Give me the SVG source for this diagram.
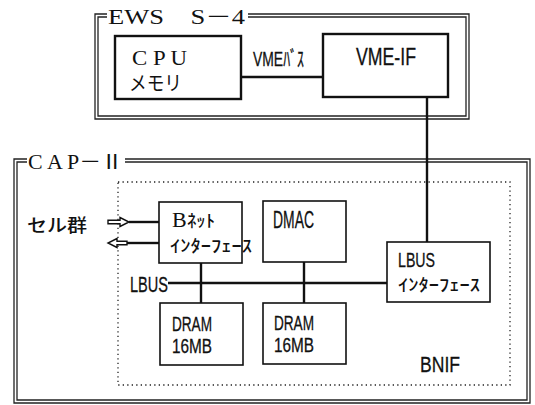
<svg xmlns="http://www.w3.org/2000/svg" width="535" height="405" viewBox="0 0 535 405">
<style>
.frame{fill:none;stroke:#222;stroke-width:1.3}
.box{fill:#fff;stroke:#111;stroke-width:1.6}
.boxb{fill:#fff;stroke:#111;stroke-width:2.4}
.dot{fill:none;stroke:#222;stroke-width:1.3;stroke-dasharray:1.3 3.2}
.ln{fill:none;stroke:#111;stroke-width:2.4}
.harrow{fill:#fff;stroke:#111;stroke-width:1.4}
.ser{font-family:"Liberation Serif","Noto Sans CJK JP",serif;fill:#111}
.nar{font-family:"Liberation Sans","Noto Sans CJK JP",sans-serif;fill:#111;stroke:#111;stroke-width:0.3}
.jp{font-family:"Noto Sans CJK JP",sans-serif;fill:#111}
</style>
<rect width="535" height="405" fill="#fff"/>
<g id="ews">
<path class="frame" d="M107,14 H95 V119 H469 V14 H248"/>
<path class="frame" d="M107,17 H98 V116 H466 V17 H248"/>
<text class="ser" x="108" y="24" font-size="20" textLength="137" lengthAdjust="spacingAndGlyphs">EWS　S－4</text>
</g>
<g id="cap">
<path class="frame" d="M27,159 H14 V403 H530 V159 H125"/>
<path class="frame" d="M27,162 H17 V400 H527 V162 H125"/>
<text class="ser" x="28" y="169" font-size="20" textLength="95" lengthAdjust="spacingAndGlyphs">C A P－Ⅱ</text>
</g>
<g id="bnif">
<rect class="dot" x="118" y="182" width="392" height="203"/>
<text class="nar" x="420" y="372" font-size="22" textLength="40" lengthAdjust="spacingAndGlyphs">BNIF</text>
</g>
<g id="connectors">
<line class="ln" x1="241" y1="77" x2="323" y2="77"/>
<line class="ln" x1="427" y1="97" x2="427" y2="242"/>
<line class="ln" x1="168" y1="283" x2="387" y2="283"/>
<line class="ln" x1="201" y1="263" x2="201" y2="303"/>
<line class="ln" x1="304" y1="262" x2="304" y2="303"/>
<line class="ln" x1="129" y1="222" x2="159" y2="222"/>
<line class="ln" x1="127" y1="243" x2="159" y2="243"/>
<polygon class="harrow" points="108,220.3 120,220.3 120,217.5 129,222 120,226.5 120,223.7 108,223.7"/>
<polygon class="harrow" points="127,241.3 117,241.3 117,238.5 108,243 117,247.5 117,244.7 127,244.7"/>
<text class="nar" x="253" y="66" font-size="21" textLength="51" lengthAdjust="spacingAndGlyphs">VMEﾊﾞｽ</text>
<text class="nar" x="130" y="292" font-size="22" textLength="38" lengthAdjust="spacingAndGlyphs">LBUS</text>
</g>
<g id="cpu">
<rect class="boxb" x="115" y="36" width="126" height="63"/>
<text class="ser" x="132" y="65" font-size="21" textLength="55" lengthAdjust="spacingAndGlyphs">C P U</text>
<text class="jp" x="129" y="91" font-size="20" textLength="53" lengthAdjust="spacingAndGlyphs">メモリ</text>
</g>
<g id="vmeif">
<rect class="boxb" x="323" y="34" width="125" height="63"/>
<text class="nar" x="356" y="65" font-size="23" textLength="60" lengthAdjust="spacingAndGlyphs">VME-IF</text>
</g>
<g id="cells">
<text class="jp" x="27" y="232" font-size="18" font-weight="500" textLength="60" lengthAdjust="spacingAndGlyphs">セル群</text>
</g>
<g id="bnet">
<rect class="box" x="159" y="202" width="83" height="61"/>
<text class="ser" x="172" y="227" font-size="22">B</text>
<text class="jp" x="187" y="227" font-size="17" font-weight="500" textLength="28" lengthAdjust="spacingAndGlyphs">ﾈｯﾄ</text>
<text class="jp" x="170" y="252" font-size="17" font-weight="500" textLength="82" lengthAdjust="spacingAndGlyphs">ｲﾝﾀｰﾌｪｰｽ</text>
</g>
<g id="dmac">
<rect class="box" x="263" y="201" width="83" height="61"/>
<text class="nar" x="273" y="228" font-size="23" textLength="41" lengthAdjust="spacingAndGlyphs">DMAC</text>
</g>
<g id="lbusif">
<rect class="box" x="387" y="242" width="103" height="60"/>
<text class="nar" x="398" y="267" font-size="21" textLength="37" lengthAdjust="spacingAndGlyphs">LBUS</text>
<text class="jp" x="398" y="291" font-size="17" font-weight="500" textLength="82" lengthAdjust="spacingAndGlyphs">ｲﾝﾀｰﾌｪｰｽ</text>
</g>
<g id="dram1">
<rect class="box" x="160" y="303" width="83" height="62"/>
<text class="nar" x="172" y="331" font-size="20" textLength="40" lengthAdjust="spacingAndGlyphs">DRAM</text>
<text class="nar" x="172" y="353" font-size="20" textLength="40" lengthAdjust="spacingAndGlyphs">16MB</text>
</g>
<g id="dram2">
<rect class="box" x="263" y="303" width="83" height="61"/>
<text class="nar" x="274" y="330" font-size="20" textLength="40" lengthAdjust="spacingAndGlyphs">DRAM</text>
<text class="nar" x="274" y="352" font-size="20" textLength="40" lengthAdjust="spacingAndGlyphs">16MB</text>
</g>
</svg>
